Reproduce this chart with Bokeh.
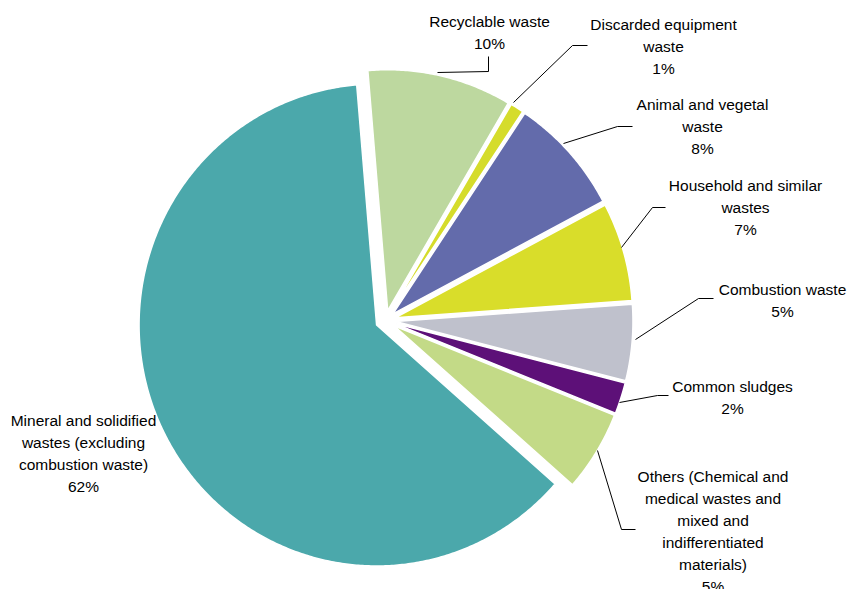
import math
from bokeh.plotting import figure
from bokeh.models import Range1d, ColumnDataSource
from bokeh.embed import file_html
from bokeh.resources import INLINE
from bokeh.core.properties import value

# ---- data ----
categories = [
    "Recyclable waste",
    "Discarded equipment waste",
    "Animal and vegetal waste",
    "Household and similar wastes",
    "Combustion waste",
    "Common sludges",
    "Others (Chemical and medical wastes and mixed and indifferentiated materials)",
    "Mineral and solidified wastes (excluding combustion waste)",
]
label_lines = [
    ["Recyclable waste"],
    ["Discarded equipment", "waste"],
    ["Animal and vegetal", "waste"],
    ["Household and similar", "wastes"],
    ["Combustion waste"],
    ["Common sludges"],
    ["Others (Chemical and", "medical wastes and", "mixed and", "indifferentiated", "materials)"],
    ["Mineral and solidified", "wastes (excluding", "combustion waste)"],
]
shares = [9.8, 0.9, 7.9, 6.6, 5.1, 2.1, 5.4, 62.2]
colors = ["#BDD89F", "#D5DC2B", "#636BAB", "#D9DD2A", "#BFC1CC", "#5D1078", "#C3DA87", "#4BA8AB"]

# ---- layout (pixels, picture coordinates) ----
W, H = 848, 589
CX, CY = 385.0, 320.0
RX, RY = 237.5, 241.0
EXPLODE = 10.0
START_DEG = -4.8
LINE_STEP = 22.0
FONT = "Liberation Sans"
FONT_SIZE = "15.5px"

label_anchor = [(489, 20.5), (663, 24), (702, 104), (745, 185), (782, 289),
                (732, 386), (712.5, 476), (83, 420)]
leaders = [
    [(437, 72), (488, 71), (488, 56)],
    [(513, 102), (572, 45), (587, 45)],
    [(563, 143), (617, 126), (632, 126)],
    [(621, 247), (652, 207), (665, 207)],
    [(635, 339), (698, 298), (713, 298)],
    [(619, 402), (657, 395), (668, 395)],
    [(597, 450), (621, 529), (635, 529)],
    None,
]

p = figure(width=W, height=H, x_range=Range1d(0, W), y_range=Range1d(-H, 0),
           output_backend="svg", toolbar_location=None, min_border=0,
           x_axis_type=None, y_axis_type=None)
p.grid.visible = False
p.outline_line_color = None
p.background_fill_color = "white"

total = sum(shares)
pxs, pys = [], []
t = START_DEG
for v in shares:
    span = v / total * 360.0
    t1, t2 = t, t + span
    mid = math.radians((t1 + t2) / 2)
    vx = CX + EXPLODE * math.sin(mid)
    vy = CY - EXPLODE * math.cos(mid)
    n = max(4, int(span * 2))
    sx, sy = [vx], [-vy]
    for k in range(n + 1):
        a = math.radians(t1 + span * k / n)
        sx.append(vx + RX * math.sin(a))
        sy.append(-(vy - RY * math.cos(a)))
    pxs.append(sx)
    pys.append(sy)
    t = t2

src = ColumnDataSource(dict(xs=pxs, ys=pys, color=colors, name=categories))
p.patches(xs="xs", ys="ys", fill_color="color", line_color="white",
          line_width=1.5, line_join="miter", source=src)

for ld in leaders:
    if ld is None:
        continue
    p.line([q[0] for q in ld], [-q[1] for q in ld], line_color="#000000", line_width=1)

tx, ty, tt = [], [], []
for lines, v, (ax, ay) in zip(label_lines, shares, label_anchor):
    allines = lines + [f"{round(v)}%"]
    for i, s in enumerate(allines):
        tx.append(ax)
        ty.append(-(ay + i * LINE_STEP))
        tt.append(s)
p.text(x=tx, y=ty, text=tt, text_align="center", text_baseline="middle",
       text_font=value(FONT), text_font_size=FONT_SIZE, text_color="#000000")

open("out.html", "w").write(file_html(p, INLINE))
